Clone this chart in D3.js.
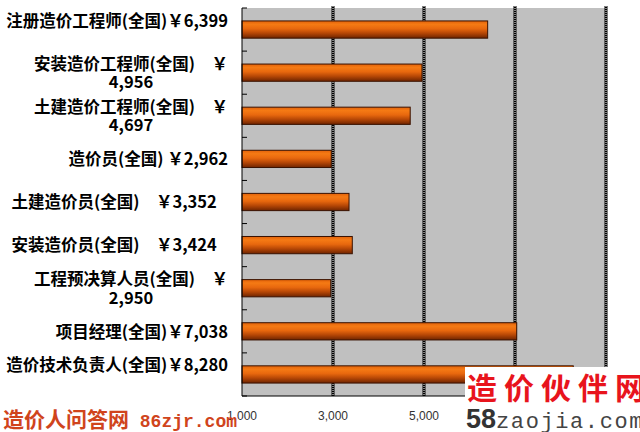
<!DOCTYPE html>
<html><head><meta charset="utf-8">
<script src="https://cdn.jsdelivr.net/npm/d3@7"></script>
<style>
html,body{margin:0;padding:0;background:#fff;}
svg{display:block;}
text{white-space:pre;}
</style></head><body>
<svg id="c" width="640" height="432"></svg>
<script>
const categories = ["注册造价工程师(全国)","安装造价工程师(全国)","土建造价工程师(全国)","造价员(全国)","土建造价员(全国)","安装造价员(全国)","工程预决算人员(全国)","项目经理(全国)","造价技术负责人(全国)"];
const values = [6399,4956,4697,2962,3352,3424,2950,7038,8280];
const labelLines = [
  ["注册造价工程师(全国)￥6,399",""],
  ["安装造价工程师(全国)　￥","4,956"],
  ["土建造价工程师(全国)　￥","4,697"],
  ["造价员(全国) ￥2,962"],
  ["土建造价员(全国)　￥3,352   "],
  ["安装造价员(全国)　￥3,424   "],
  ["工程预决算人员(全国)　￥","2,950"],
  ["项目经理(全国)￥7,038"],
  ["造价技术负责人(全国)￥8,280",""]
];
const xTicks = [1000,3000,5000,7000,9000];
const gridValues = [3000,5000,7000,9000];
const watermarkLeft = ["造价人问答网", " 86zjr.com"];
const watermarkRight = ["造价伙伴网", "58", "zaojia.com"];

const svg = d3.select("#c");
const x = d3.scaleLinear().domain([1000,9000]).range([242,606]);
const y = d3.scaleBand().domain(categories).range([8,396]).paddingInner(0.6).paddingOuter(0.3);

// gradient
const defs = svg.append("defs");
const grad = defs.append("linearGradient").attr("id","barg").attr("x1",0).attr("y1",0).attr("x2",0).attr("y2",1);
[[0,"#e2620a"],[0.2,"#f57a14"],[0.45,"#e8680e"],[0.7,"#b84806"],[1,"#6e2400"]].forEach(s=>
  grad.append("stop").attr("offset",s[0]).attr("stop-color",s[1]));

// plot background
svg.append("rect").attr("x",x(1000)).attr("y",8).attr("width",x(9000)-x(1000)).attr("height",388).attr("fill","#c0c0c0");

// gridlines
const gg = svg.append("g");
gg.selectAll("line.gb").data(gridValues).join("line")
  .attr("x1",d=>x(d)).attr("x2",d=>x(d)).attr("y1",6).attr("y2",396)
  .attr("stroke","#000").attr("stroke-width",3);
gg.selectAll("line.gw").data(gridValues).join("line").attr("class","gw")
  .attr("x1",d=>x(d)).attr("x2",d=>x(d)).attr("y1",6).attr("y2",396)
  .attr("stroke","#fff").attr("stroke-width",1).attr("stroke-dasharray","1,1");

// bars
svg.append("g").selectAll("rect").data(categories).join("rect")
  .attr("x",x(1000)).attr("y",d=>y(d))
  .attr("width",(d,i)=>x(values[i])-x(1000)).attr("height",y.bandwidth())
  .attr("fill","url(#barg)").attr("stroke","#3a1200").attr("stroke-width",1);

// axes
svg.append("line").attr("x1",x(1000)).attr("x2",x(1000)).attr("y1",8).attr("y2",396).attr("stroke","#000");
svg.append("line").attr("x1",x(1000)).attr("x2",x(9000)).attr("y1",396).attr("y2",396).attr("stroke","#000");
const bounds = categories.map(c=>y(c)-y.step()*y.paddingInner()/2);
bounds.push(396);
svg.append("g").selectAll("line").data(bounds).join("line")
  .attr("x1",x(1000)).attr("x2",x(1000)+5).attr("y1",d=>d).attr("y2",d=>d).attr("stroke","#000");

// category labels
const R = 228, lineH = 18.5;
const lg = svg.append("g").attr("font-family","'Noto Sans CJK SC', sans-serif").attr("font-size",16.5).attr("font-weight","bold").attr("fill","#000");
categories.forEach((c,i)=>{
  const lines = labelLines[i];
  const cy = y(c)+y.bandwidth()/2;
  const ts = lines.map((t,j)=>lg.append("text").text(t)
     .attr("y", cy + (j-(lines.length-1)/2)*lineH + 6.2)
     .attr("text-anchor","middle"));
  const W = d3.max(ts, t=>t.node().getComputedTextLength());
  ts.forEach(t=>t.attr("x", R - W/2));
});

// x tick labels
svg.append("g").selectAll("text").data(xTicks).join("text")
  .attr("x",d=>x(d)).attr("y",420).attr("text-anchor","middle")
  .attr("font-family","'Liberation Sans', Arial, sans-serif").attr("font-size",12).attr("fill","#333")
  .text(d=>d3.format(",")(d));

// watermark left
const wl = svg.append("text").attr("x",3).attr("y",427).attr("fill","#d0441c");
wl.append("tspan").attr("font-family","'Noto Sans CJK SC'").attr("font-size",21).attr("font-weight","bold").text(watermarkLeft[0]);
wl.append("tspan").attr("font-family","'Liberation Mono', monospace").attr("font-size",18).attr("font-weight","bold").text(watermarkLeft[1]);

// watermark right
svg.append("rect").attr("x",465).attr("y",367).attr("width",175).attr("height",65).attr("fill","#fff");
svg.append("text").attr("x",467).attr("y",399).attr("fill","#e8141c")
  .attr("font-family","'Noto Sans CJK SC'").attr("font-size",30).attr("font-weight","bold").attr("letter-spacing",7)
  .text(watermarkRight[0]);
const wr = svg.append("text").attr("x",466).attr("y",428);
wr.append("tspan").attr("font-family","'Liberation Sans', Arial, sans-serif").attr("font-size",27).attr("font-weight","bold").attr("fill","#333").text(watermarkRight[1]);
wr.append("tspan").attr("font-family","'Liberation Mono', monospace").attr("font-size",22).attr("fill","#444").attr("letter-spacing",1.6).text(watermarkRight[2]);
</script>
</body></html>
